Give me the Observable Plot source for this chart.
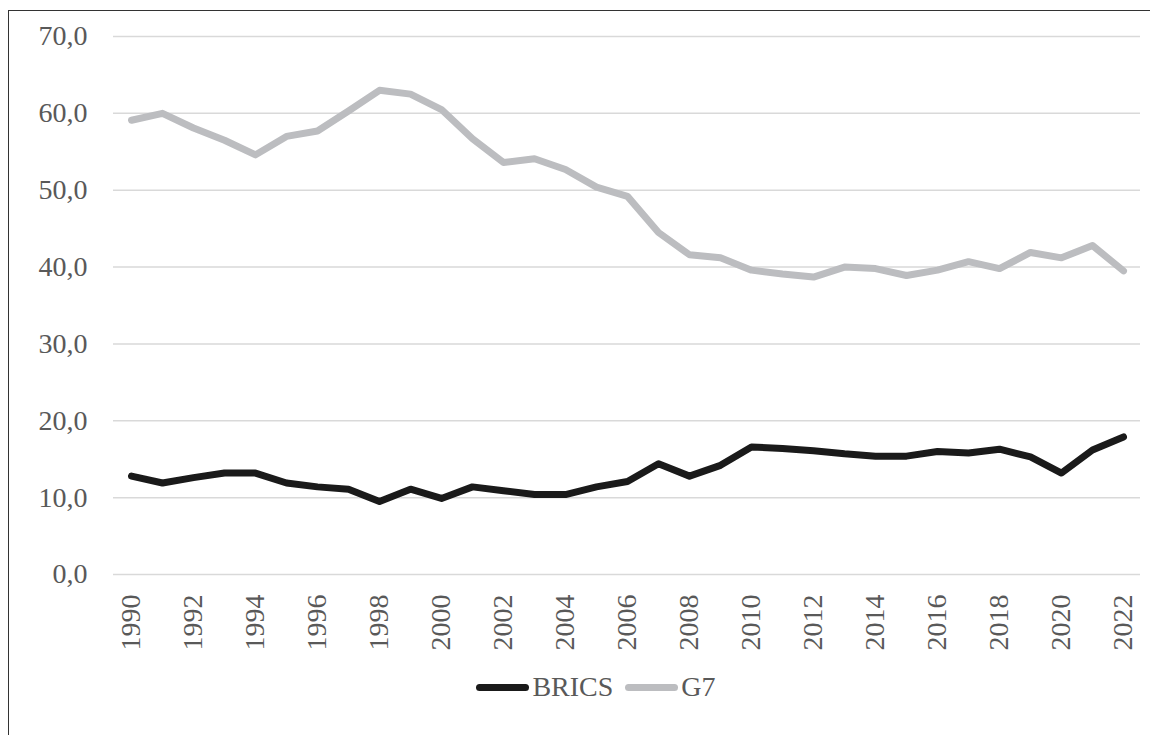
<!DOCTYPE html>
<html>
<head>
<meta charset="utf-8">
<script src="https://cdn.jsdelivr.net/npm/d3@7"></script>
<script src="https://cdn.jsdelivr.net/npm/@observablehq/plot@0.6"></script>
<style>
  html, body { margin: 0; padding: 0; background: #fff; overflow: hidden; width: 1150px; height: 735px; }
  #frame { position: absolute; left: 8px; top: 10px; width: 1200px; height: 800px; border-left: 1.5px solid #333; border-top: 1.5px solid #333; }
  #chart { position: absolute; left: 0; top: 0; }
  #chart svg, #chart svg text { font-family: 'Liberation Serif', 'Times New Roman', serif !important; }
  #legend { position: absolute; left: 0; top: 671px; width: 1192px; display: flex; justify-content: center; align-items: center;
            font-family: 'Liberation Serif', 'Times New Roman', serif; font-size: 28px; color: #595959; }
  .item { display: flex; align-items: center; margin: 0 6px; }
  .sw { width: 53px; height: 7px; border-radius: 4px; margin-right: 3px; }
</style>
</head>
<body>
<div id="frame"></div>
<div id="chart"></div>
<div id="legend"></div>
<script>
const years = [1990,1991,1992,1993,1994,1995,1996,1997,1998,1999,2000,2001,2002,2003,2004,2005,2006,2007,2008,2009,2010,2011,2012,2013,2014,2015,2016,2017,2018,2019,2020,2021,2022];
const brics = [12.8,11.9,12.6,13.2,13.2,11.9,11.4,11.1,9.5,11.1,9.9,11.4,10.9,10.4,10.4,11.4,12.1,14.4,12.8,14.2,16.6,16.4,16.1,15.7,15.4,15.4,16.0,15.8,16.3,15.3,13.2,16.2,17.9];
const g7 = [59.1,60.0,58.1,56.5,54.6,57.0,57.7,60.3,63.0,62.5,60.5,56.7,53.6,54.1,52.7,50.4,49.2,44.5,41.6,41.2,39.6,39.1,38.7,40.0,39.8,38.9,39.6,40.7,39.8,41.9,41.2,42.8,39.5];
const seriesNames = ["BRICS", "G7"];
const seriesColors = ["#1a1a1a", "#bcbdc0"];
const yTicks = [0,10,20,30,40,50,60,70];
const xTicks = [1990,1992,1994,1996,1998,2000,2002,2004,2006,2008,2010,2012,2014,2016,2018,2020,2022];

const data = [];
years.forEach((y, i) => {
  data.push({year: y, value: brics[i], series: "BRICS"});
  data.push({year: y, value: g7[i], series: "G7"});
});

const fmt = d => d3.format(".1f")(d).replace(".", ",");

const chart = Plot.plot({
  width: 1150,
  height: 660,
  marginLeft: 113,
  marginRight: 10,
  marginTop: 36,
  marginBottom: 86,
  style: {fontFamily: "Liberation Serif", fontSize: "28px", color: "#595959", background: "transparent", overflow: "visible"},
  x: {type: "point", domain: years, padding: 0.5},
  y: {domain: [0, 70]},
  color: {domain: seriesNames, range: seriesColors},
  marks: [
    Plot.gridY({ticks: yTicks, stroke: "#d9d9d9", strokeOpacity: 1, strokeWidth: 1.5}),
    Plot.axisY({ticks: yTicks, tickFormat: fmt, tickSize: 0, tickPadding: 26, label: null}),
    Plot.axisX({ticks: xTicks, tickFormat: d => String(d), tickRotate: -90, tickSize: 0, tickPadding: 20, label: null}),
    Plot.lineY(data, {x: "year", y: "value", z: "series", stroke: "series", strokeWidth: 7, strokeLinejoin: "round", strokeLinecap: "round"})
  ]
});
document.getElementById("chart").appendChild(chart);

const legend = document.getElementById("legend");
seriesNames.forEach((n, i) => {
  const it = document.createElement("div");
  it.className = "item";
  const sw = document.createElement("div");
  sw.className = "sw";
  sw.style.background = seriesColors[i];
  const t = document.createElement("span");
  t.textContent = n;
  it.appendChild(sw);
  it.appendChild(t);
  legend.appendChild(it);
});
</script>
</body>
</html>
